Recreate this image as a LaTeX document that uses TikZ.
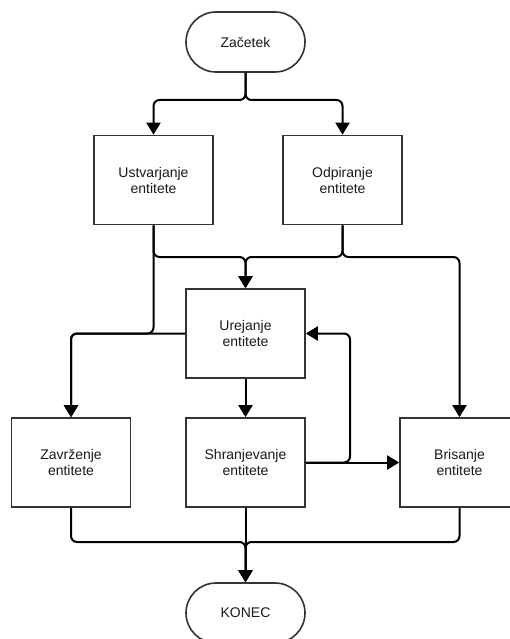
\documentclass[tikz,border=0pt]{standalone}
\usepackage{fontspec}
\setmainfont{Liberation Sans}
\usetikzlibrary{arrows.meta}
\definecolor{edgegray}{HTML}{333333}
\definecolor{txt}{HTML}{1A1A1A}
\tikzset{
  proc/.style={draw=edgegray, line width=1.6pt, fill=white, rectangle, minimum width=119pt, minimum height=89pt, inner sep=0pt, align=center, text=txt, font=\fontsize{14}{16}\selectfont},
  term/.style={draw=edgegray, line width=1.6pt, fill=white, rectangle, rounded corners=30pt, minimum width=119pt, minimum height=60pt, inner sep=0pt, align=center, text=txt, font=\fontsize{14}{16}\selectfont},
  conn/.style={draw=black, line width=2pt, rounded corners=6pt, -{Triangle[length=12pt,width=14pt]}},
  plain/.style={draw=black, line width=2pt, rounded corners=6pt}
}
\begin{document}
\begin{tikzpicture}[x=1pt,y=-1pt]
\useasboundingbox (0,0) rectangle (510,639);
\clip (0,0) rectangle (510,639);
\fill[white] (0,0) rectangle (510,639);
% nodes
\node[term] (start) at (245.5,42) {Začetek};
\node[proc] (ustv) at (153.5,180) {Ustvarjanje\\entitete};
\node[proc] (odp) at (342.5,180) {Odpiranje\\entitete};
\node[proc] (ure) at (245.5,333.5) {Urejanje\\entitete};
\node[proc] (zav) at (71,462.5) {Zavrženje\\entitete};
\node[proc] (shr) at (245.5,462.5) {Shranjevanje\\entitete};
\node[proc] (bri) at (459.5,462.5) {Brisanje\\entitete};
\node[term] (konec) at (245.5,613) {KONEC};
% coordinates
\coordinate (sj) at (245.5,100);
\coordinate (uj) at (245.5,257);
\coordinate (bj) at (245.5,542);
\coordinate (zj) at (71,333.5);
\coordinate (loopc) at (350,462.5);
% connectors
\draw[conn] (start.south) -- (sj) -| (ustv.north);
\draw[conn] (start.south) -- (sj) -| (odp.north);
\draw[conn] (ustv.south) |- (uj) -- (ure.north);
\draw[conn] (odp.south) |- (uj) -- (ure.north);
\draw[conn] (odp.south) |- (459.5,257) -- (bri.north);
\draw[conn] (ure.west) -- (zj) -- (zav.north);
\draw[conn] (ustv.south) |- (zj) -- (zav.north);
\draw[conn] (ure.south) -- (shr.north);
\draw[conn] (shr.east) -- (bri.west);
\draw[conn] (shr.east) -- (loopc) |- (ure.east);
\draw[conn] (zav.south) |- (bj) -- (konec.north);
\draw[conn] (bri.south) |- (bj) -- (konec.north);
\draw[conn] (shr.south) -- (konec.north);
\end{tikzpicture}
\end{document}
